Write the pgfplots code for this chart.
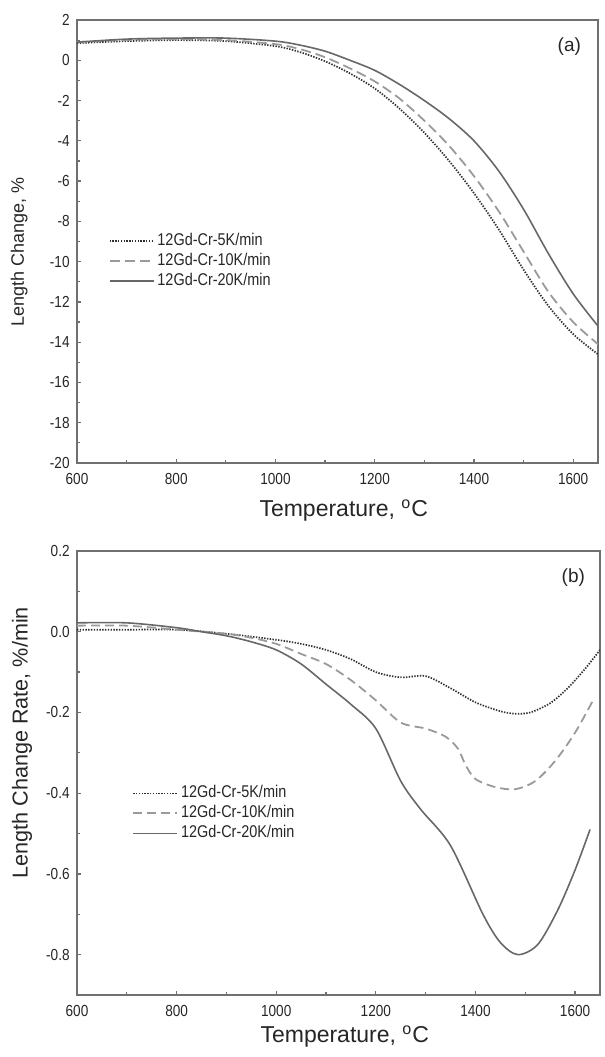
\documentclass[border=0pt]{standalone}
\usepackage{pgfplots}
\pgfplotsset{compat=1.18}
\usepackage{fontspec}
\setmainfont{Liberation Sans}
\newfontfamily\narrowfont[FakeStretch=0.85]{Liberation Sans}
\definecolor{axisgray}{HTML}{707070}
\definecolor{cdot}{HTML}{303030}
\definecolor{cdash}{HTML}{9A9A9A}
\definecolor{csolid}{HTML}{686868}

\pgfplotsset{
  myaxis/.style={
    scale only axis,
    xmin=600, xmax=1650,
    xtick={600,800,...,1600},
    minor x tick num=1,
    minor y tick num=1,
    tick pos=left,
    tick align=inside,
    major tick length=2.2pt,
    minor tick length=1.3pt,
    axis line style={axisgray, line width=0.9pt},
    every tick/.style={axisgray, line width=0.6pt},
    /pgf/number format/assume math mode=true,
    /pgf/number format/1000 sep={},
    ticklabel style={font=\narrowfont\fontsize{8}{9}\selectfont, text=black!85},
    yticklabel style={inner sep=0pt, xshift=-3.5pt},
    xticklabel style={inner sep=0pt, yshift=-5pt},
    xlabel={Temperature, \textsuperscript{o}C},
    xlabel style={font=\fontsize{11.5}{13}\selectfont, anchor=base, text=black!85},
    ylabel style={anchor=center, text=black!85},
    legend cell align=left,
    legend style={draw=none, fill=none, inner sep=0pt, row sep=2pt, column sep=1.5pt,
      font=\narrowfont\fontsize{8.5}{9}\selectfont, text=black!85,
      nodes={inner sep=0pt, text height=6pt, text depth=2pt}},
    legend image code/.code={\draw[##1] (0pt,0pt) -- (22pt,0pt);},
  },
  sdot/.style={cdot, line width=0.85pt, dash pattern=on 0.7pt off 0.7pt},
  sdash/.style={cdash, line width=0.9pt, dash pattern=on 5pt off 2.5pt},
  ssolid/.style={csolid, line width=0.8pt},
}

\begin{document}
\begin{tikzpicture}
\path[use as bounding box] (0,0) rectangle (302.5pt,528.5pt);

% ---------------- (a) ----------------
\begin{axis}[myaxis,
  at={(38.5pt,297pt)}, anchor=south west,
  width=260.5pt, height=221.5pt,
  ymin=-20, ymax=2,
  ytick={-20,-18,...,2},
  xlabel style={at={(axis description cs:0.512,0)}, yshift=-27pt},
  ylabel={Length Change, \%},
  ylabel style={at={(axis description cs:-0.111,0.476)}, font=\fontsize{9}{10}\selectfont},
  legend style={at={(axis description cs:0.06,0.52)}, anchor=north west},
]
\addplot[sdot, smooth] coordinates {
(600,0.85) (700,0.95) (800,1.0) (900,0.95) (1000,0.7) (1050,0.4) (1100,-0.05)
(1150,-0.65) (1200,-1.4) (1250,-2.4) (1300,-3.6) (1350,-5.0) (1400,-6.6)
(1450,-8.4) (1500,-10.4) (1550,-12.2) (1600,-13.6) (1650,-14.6)};
\addlegendentry{12Gd-Cr-5K/min}
\addplot[sdash, smooth] coordinates {
(600,0.9) (700,1.0) (800,1.05) (900,1.0) (1000,0.8) (1050,0.55) (1100,0.15)
(1150,-0.4) (1200,-1.05) (1250,-1.9) (1300,-3.0) (1350,-4.25) (1400,-5.75)
(1450,-7.5) (1500,-9.5) (1550,-11.5) (1600,-13.0) (1650,-14.1)};
\addlegendentry{12Gd-Cr-10K/min}
\addplot[ssolid, smooth] coordinates {
(600,0.9) (700,1.05) (800,1.1) (900,1.1) (1000,0.95) (1050,0.75) (1100,0.45)
(1150,0.0) (1200,-0.5) (1250,-1.2) (1300,-2.0) (1350,-2.9) (1400,-4.0)
(1450,-5.5) (1500,-7.4) (1550,-9.6) (1600,-11.6) (1650,-13.2)};
\addlegendentry{12Gd-Cr-20K/min}
\node[font=\fontsize{9.5}{11}\selectfont, text=black!85] at (axis description cs:0.945,0.939) {(a)};
\end{axis}

% ---------------- (b) ----------------
\begin{axis}[myaxis,
  at={(38.5pt,31pt)}, anchor=south west,
  width=261.5pt, height=222pt,
  ymin=-0.9, ymax=0.2,
  ytick={-0.8,-0.6,...,0.2},
  yticklabel style={/pgf/number format/.cd, fixed, fixed zerofill, precision=1},
  xlabel style={at={(axis description cs:0.512,0)}, yshift=-24pt},
  ylabel={Length Change Rate, \%/min},
  ylabel style={at={(axis description cs:-0.105,0.568)}, font=\fontsize{10.8}{12}\selectfont},
  legend style={at={(axis description cs:0.105,0.473)}, anchor=north west},
]
\addplot[sdot, smooth] coordinates {
(600,0.005) (700,0.005) (800,0.005) (900,-0.005) (1000,-0.02) (1050,-0.03)
(1100,-0.045) (1150,-0.068) (1200,-0.1) (1250,-0.113) (1300,-0.11)
(1350,-0.14) (1400,-0.175) (1450,-0.197) (1480,-0.203) (1510,-0.2)
(1550,-0.177) (1585,-0.14) (1620,-0.092) (1650,-0.045)};
\addlegendentry{12Gd-Cr-5K/min}
\addplot[sdash, dash pattern=on 4.5pt off 2.5pt, smooth] coordinates {
(600,0.015) (700,0.015) (800,0.005) (900,-0.005) (950,-0.015) (1000,-0.03)
(1050,-0.055) (1100,-0.08) (1150,-0.12) (1200,-0.17) (1250,-0.225)
(1300,-0.24) (1340,-0.26) (1365,-0.29) (1380,-0.33) (1400,-0.365)
(1440,-0.385) (1480,-0.39) (1520,-0.37) (1560,-0.32) (1600,-0.25) (1636,-0.17)};
\addlegendentry{12Gd-Cr-10K/min}
\addplot[ssolid, smooth] coordinates {
(600,0.022) (700,0.022) (800,0.01) (850,0.0) (900,-0.01) (950,-0.025)
(1000,-0.045) (1050,-0.08) (1100,-0.13) (1150,-0.18) (1200,-0.24)
(1250,-0.37) (1290,-0.44) (1350,-0.53) (1415,-0.70) (1450,-0.77)
(1485,-0.80) (1525,-0.775) (1565,-0.69) (1600,-0.59) (1630,-0.49)};
\addlegendentry{12Gd-Cr-20K/min}
\node[font=\fontsize{9.5}{11}\selectfont, text=black!85] at (axis description cs:0.949,0.941) {(b)};
\end{axis}
\end{tikzpicture}
\end{document}
